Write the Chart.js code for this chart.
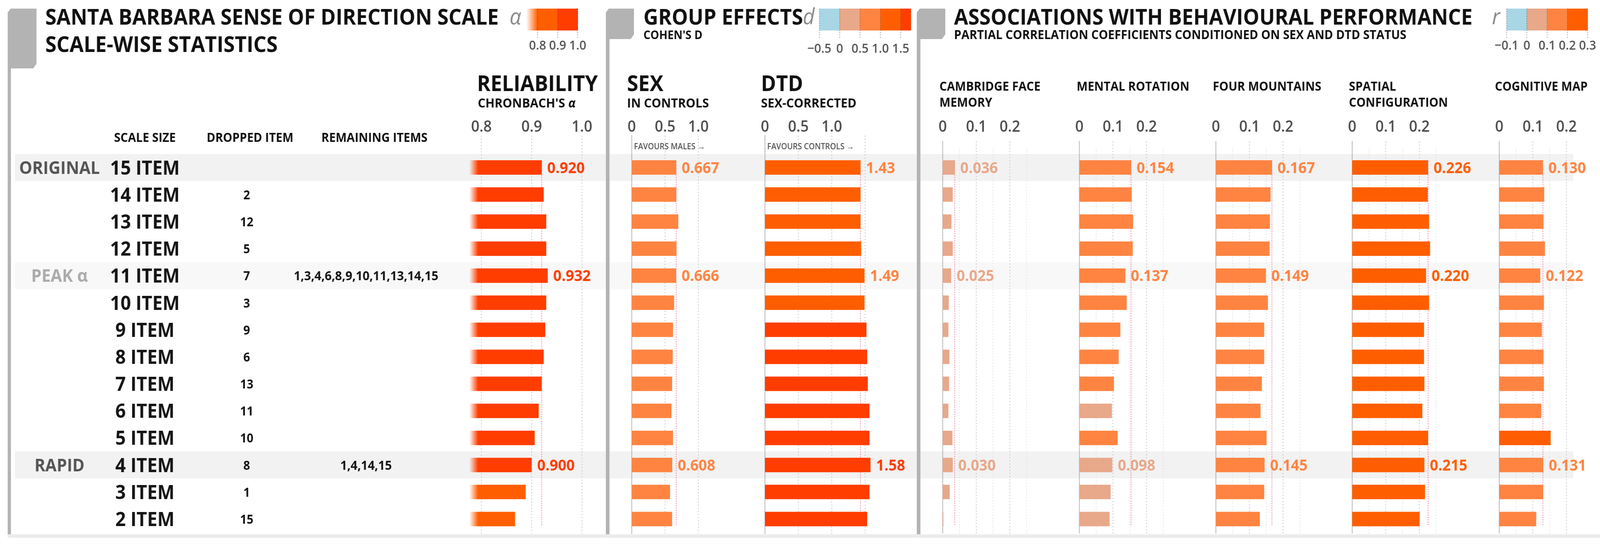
<!DOCTYPE html>
<html>
<head>
<meta charset="utf-8">
<script src="https://cdn.jsdelivr.net/npm/chart.js@4.4.1/dist/chart.umd.min.js"></script>
<style>
html,body{margin:0;padding:0;background:#fff;overflow:hidden;}
#wrap{position:relative;width:100vw;height:100vh;overflow:hidden;}
#c{display:block;width:100vw;height:100vh;}
</style>
</head>
<body>
<div id="wrap"><canvas id="c" width="4384" height="1397" style="width:100vw;height:100vh"></canvas></div>
<script>
// ---------------- DATA ----------------
const scaleSizes = ['15 ITEM','14 ITEM','13 ITEM','12 ITEM','11 ITEM','10 ITEM','9 ITEM','8 ITEM','7 ITEM','6 ITEM','5 ITEM','4 ITEM','3 ITEM','2 ITEM'];
const rowTags = ['ORIGINAL','','','','PEAK α','','','','','','','RAPID','',''];
const droppedItems = ['','2','12','5','7','3','9','6','13','11','10','8','1','15'];
const remainingItems = ['','','','','1,3,4,6,8,9,10,11,13,14,15','','','','','','','1,4,14,15','',''];

const cronbachAlpha   = [0.920,0.924,0.929,0.929,0.932,0.929,0.927,0.924,0.920,0.914,0.906,0.900,0.888,0.867];
const sexD            = [0.667,0.669,0.699,0.672,0.666,0.637,0.619,0.615,0.606,0.597,0.619,0.608,0.575,0.606];
const dtdD            = [1.43,1.43,1.43,1.44,1.49,1.49,1.52,1.53,1.54,1.565,1.565,1.58,1.565,1.53];
const faceMemoryR     = [0.036,0.030,0.026,0.030,0.025,0.018,0.017,0.020,0.019,0.017,0.029,0.030,0.021,0.002];
const mentalRotationR = [0.154,0.156,0.160,0.159,0.137,0.141,0.122,0.117,0.103,0.097,0.114,0.098,0.093,0.090];
const fourMountainsR  = [0.167,0.163,0.161,0.160,0.149,0.155,0.144,0.144,0.137,0.133,0.151,0.145,0.144,0.131];
const spatialConfigR  = [0.226,0.225,0.229,0.232,0.220,0.229,0.214,0.214,0.215,0.209,0.226,0.215,0.217,0.201];
const cognitiveMapR   = [0.130,0.134,0.132,0.136,0.122,0.133,0.127,0.132,0.133,0.125,0.153,0.131,0.131,0.110];

const labelledRows = [0, 4, 11];

const alphaTicks = [0.8, 0.9, 1.0];
const alphaTickLabels = ['0.8','0.9','1.0'];
const dTicks = [0, 0.5, 1.0];
const dTickLabels = ['0','0.5','1.0'];
const rTicks = [0, 0.1, 0.2];
const rTickLabels = ['0','0.1','0.2'];

const alphaLegendBreaks = [0.8, 0.9, 1.0];
const alphaLegendLabels = ['0.8','0.9','1.0'];
const dLegendBreaks = [-0.5, 0, 0.5, 1.0, 1.5];
const dLegendLabels = ['\u22120.5','0','0.5','1.0','1.5'];
const rLegendBreaks = [-0.1, 0, 0.1, 0.2, 0.3];
const rLegendLabels = ['\u22120.1','0','0.1','0.2','0.3'];

// ---------------- STYLE ----------------
const W = 4384, H = 1397;
const FONT = '"Open Sans", "Noto Sans", sans-serif';
const C = {blue:'#A8D6E4', salmon:'#E8A88A', lorange:'#FF8442', orange:'#FF5E00', red:'#FF3D00'};
const alphaColor = v => v >= 0.9 ? C.red : C.orange;
const dColor = v => v < 0 ? C.blue : v < 0.5 ? C.salmon : v < 1.0 ? C.lorange : v < 1.5 ? C.orange : C.red;
const rColor = v => v < 0 ? C.blue : v < 0.1 ? C.salmon : v < 0.2 ? C.lorange : C.orange;

const PANELS = [
  {key:'rel', values:cronbachAlpha,   zero:0.8, px:1319,   k:1377.5, base:0.776, ticks:alphaTicks, tickLabels:alphaTickLabels, grid:[0.8,0.9,1.0], minor:[], dark:null, digits:3, color:alphaColor, gridTop:347, fade:true},
  {key:'sex', values:sexD,            zero:0,   px:1731,   k:182.5, base:0, ticks:dTicks, tickLabels:dTickLabels, grid:[0.5,1.0], minor:[], dark:0, digits:3, color:dColor, gridTop:347},
  {key:'dtd', values:dtdD,            zero:0,   px:2096,   k:183,   base:0, ticks:dTicks, tickLabels:dTickLabels, grid:[0.5,1.0,1.5], minor:[], dark:0, digits:2, color:dColor, gridTop:347,
     labelColor: v => v >= 1.5 ? C.red : C.lorange},
  {key:'cfm', values:faceMemoryR,     zero:0,   px:2583,   k:920, base:0, ticks:rTicks, tickLabels:rTickLabels, grid:[0.1,0.2], minor:[0.05,0.15,0.25], dark:0, digits:3, color:rColor, gridTop:362},
  {key:'mr',  values:mentalRotationR, zero:0,   px:2957.5, k:920, base:0, ticks:rTicks, tickLabels:rTickLabels, grid:[0.1,0.2], minor:[0.05,0.15,0.25], dark:0, digits:3, color:rColor, gridTop:362},
  {key:'fm',  values:fourMountainsR,  zero:0,   px:3331.5, k:920, base:0, ticks:rTicks, tickLabels:rTickLabels, grid:[0.1,0.2], minor:[0.05,0.15,0.25], dark:0, digits:3, color:rColor, gridTop:362},
  {key:'sc',  values:spatialConfigR,  zero:0,   px:3705,   k:920, base:0, ticks:rTicks, tickLabels:rTickLabels, grid:[0.1,0.2], minor:[0.05,0.15,0.25], dark:0, digits:3, color:rColor, gridTop:362},
  {key:'cm',  values:cognitiveMapR,   zero:0,   px:4108,   k:920, base:0, ticks:rTicks, tickLabels:rTickLabels, grid:[0.1,0.2], minor:[0.05,0.15], dark:0, digits:3, color:rColor, gridTop:362,
     colorOverride:{10:C.orange}}
];

const scales = {
  y: {type:'category', display:false, offset:true, grid:{display:false}}
};
PANELS.forEach(p => {
  scales['x_' + p.key] = {
    type:'linear', axis:'x', display:false,
    min: p.zero - p.px / p.k,
    max: p.zero + (W - p.px) / p.k
  };
});

function barColor(p, i) {
  if (p.colorOverride && p.colorOverride[i]) return p.colorOverride[i];
  return p.color(p.values[i]);
}
function hexA(hex, a) {
  const n = parseInt(hex.slice(1), 16);
  return `rgba(${(n>>16)&255},${(n>>8)&255},${n&255},${a})`;
}

// ---------------- HELPERS ----------------
function txt(ctx, s, x, y, o) {
  o = o || {};
  ctx.save();
  ctx.font = `${o.italic ? 'italic ' : ''}${o.weight || 700} ${o.size || 32}px ${FONT}`;
  ctx.fillStyle = o.color || '#111';
  ctx.textAlign = o.align || 'left';
  ctx.textBaseline = 'alphabetic';
  ctx.fillText(s, x, y);
  ctx.restore();
}
function vline(ctx, x, y0, y1, color, width, dash) {
  ctx.save();
  ctx.strokeStyle = color; ctx.lineWidth = width; ctx.setLineDash(dash);
  ctx.beginPath(); ctx.moveTo(x, y0); ctx.lineTo(x, y1); ctx.stroke();
  ctx.restore();
}
function tab(ctx, x0, x1, y0, y1, lineW, bottom) {
  ctx.save();
  ctx.fillStyle = '#b3b3b3';
  ctx.beginPath();
  ctx.moveTo(x0, y0 + 10);
  ctx.lineTo(x0 + 8, y0);
  ctx.lineTo(x1, y0);
  ctx.lineTo(x1, y1 - 12);
  ctx.lineTo(x1 - 9, y1);
  ctx.lineTo(x0 + lineW, y1);
  ctx.lineTo(x0 + lineW, bottom);
  ctx.lineTo(x0, bottom);
  ctx.closePath();
  ctx.fill();
  ctx.restore();
}
function legend(ctx, breaks, labels, colors, x0, x1, y0, y1, labelY, fadeLeft) {
  const n = breaks.length;
  const px = v => x0 + (v - breaks[0]) / (breaks[n-1] - breaks[0]) * (x1 - x0);
  ctx.save();
  if (fadeLeft) {
    const g = ctx.createLinearGradient(fadeLeft, 0, x0, 0);
    g.addColorStop(0, hexA(colors[0], 0)); g.addColorStop(1, colors[0]);
    ctx.fillStyle = g; ctx.fillRect(fadeLeft, y0, x0 - fadeLeft, y1 - y0);
  }
  for (let i = 0; i < colors.length; i++) {
    const a = i < n ? px(breaks[i]) : x1;
    const b = i + 1 < n ? px(breaks[i+1]) : x1 + (x1 - x0) / (n - 1) / 2;
    ctx.fillStyle = colors[i];
    ctx.fillRect(a, y0, b - a + 0.5, y1 - y0);
  }
  ctx.restore();
  breaks.forEach((v, i) => {
    vline(ctx, px(v), y0, y1 + 22, 'rgba(60,60,60,0.55)', 1.5, [3, 3]);
    txt(ctx, labels[i], px(v), labelY, {size:33, weight:600, color:'#555', align:'center'});
  });
}

// ---------------- PLUGIN ----------------
const decor = {
  id:'decor',
  beforeDraw(chart) {
    const ctx = chart.ctx, ys = chart.scales.y, ca = chart.chartArea;
    const rowH = (ca.bottom - ca.top) / scaleSizes.length;
    ctx.save();
    ctx.fillStyle = '#fff'; ctx.fillRect(0, 0, W, H);
    const bands = {0:'#f2f2f2', 4:'#f8f8f8', 11:'#f2f2f2'};
    Object.keys(bands).forEach(k => {
      const yc = ys.getPixelForValue(+k);
      ctx.fillStyle = bands[k];
      ctx.fillRect(41, yc - rowH/2, 4311 - 41, rowH);
    });
    ctx.fillStyle = '#ececec';
    ctx.fillRect(21, 1367, W - 21, 9);
    ctx.restore();
    tab(ctx, 21, 100, 22, 175, 9, 1367);
    tab(ctx, 1660, 1737, 22, 100, 10, 1367);
    tab(ctx, 2512, 2590, 22, 100, 10, 1367);
  },
  beforeDatasetsDraw(chart) {
    const ctx = chart.ctx, ys = chart.scales.y;
    const first = ys.getPixelForValue(0), last = ys.getPixelForValue(scaleSizes.length - 1);
    PANELS.forEach(p => {
      const sc = chart.scales['x_' + p.key];
      p.minor.forEach(v => vline(ctx, sc.getPixelForValue(v), 380, 1365, '#dedede', 2, [2.5, 5]));
      p.grid.forEach(v => vline(ctx, sc.getPixelForValue(v), p.gridTop, 1365, '#c4c4c4', 2, [3, 5]));
      if (p.dark !== null) vline(ctx, sc.getPixelForValue(p.dark), p.gridTop, 1365, '#6a6a6a', 2, [2, 2]);
      vline(ctx, sc.getPixelForValue(p.values[0]), first - 18, last + 18, '#e4628f', 1.5, [3, 3]);
    });
  },
  afterDatasetsDraw(chart) {
    const ctx = chart.ctx, ys = chart.scales.y;
    PANELS.forEach((p, di) => {
      const meta = chart.getDatasetMeta(di);
      labelledRows.forEach(i => {
        const el = meta.data[i];
        const v = p.values[i];
        const col = p.labelColor ? p.labelColor(v) : barColor(p, i);
        txt(ctx, v.toFixed(p.digits), el.x + 15, el.y + 14, {size:40, weight:700, color:col});
      });
      const sc = chart.scales['x_' + p.key];
      p.ticks.forEach((t, j) => txt(ctx, p.tickLabels[j], sc.getPixelForValue(t), 337, {size:40, weight:600, color:'#4d4d4d', align:'center'}));
    });
    scaleSizes.forEach((s, i) => {
      const yc = ys.getPixelForValue(i);
      txt(ctx, s, 397, yc + 18, {size:50, weight:700, color:'#151515', align:'center'});
      if (droppedItems[i]) txt(ctx, droppedItems[i], 676, yc + 12, {size:32, weight:700, color:'#151515', align:'center'});
      if (remainingItems[i]) txt(ctx, remainingItems[i], 1003, yc + 12, {size:33, weight:700, color:'#151515', align:'center'});
      if (rowTags[i]) {
        const col = rowTags[i].startsWith('PEAK') ? '#ababab' : '#555';
        txt(ctx, rowTags[i], 163, yc + 16, {size:45, weight:700, color:col, align:'center'});
      }
    });
    txt(ctx, 'SANTA BARBARA SENSE OF DIRECTION SCALE', 124, 63, {size:56});
    txt(ctx, 'SCALE-WISE STATISTICS', 124, 133, {size:56});
    txt(ctx, 'GROUP EFFECTS', 1763, 63, {size:56});
    txt(ctx, "COHEN'S D", 1763, 100, {size:30});
    txt(ctx, 'ASSOCIATIONS WITH BEHAVIOURAL PERFORMANCE', 2614, 63, {size:56});
    txt(ctx, 'PARTIAL CORRELATION COEFFICIENTS CONDITIONED ON SEX AND DTD STATUS', 2614, 100, {size:32});
    txt(ctx, 'α', 1428, 62, {size:56, weight:400, italic:true, color:'#8a8a8a', align:'right'});
    legend(ctx, alphaLegendBreaks, alphaLegendLabels, [C.orange, C.red], 1473, 1583, 22, 78, 127, 1442);
    txt(ctx, 'd', 2232, 62, {size:56, weight:400, italic:true, color:'#8a8a8a', align:'right'});
    legend(ctx, dLegendBreaks, dLegendLabels, [C.blue, C.salmon, C.lorange, C.orange, C.red], 2245, 2468, 22, 78, 135, null);
    txt(ctx, 'r', 4110, 62, {size:56, weight:400, italic:true, color:'#8a8a8a', align:'right'});
    legend(ctx, rLegendBreaks, rLegendLabels, [C.blue, C.salmon, C.lorange, C.orange], 4128, 4350, 22, 78, 127, null);
    txt(ctx, 'SCALE SIZE', 397, 363, {size:32, align:'center'});
    txt(ctx, 'DROPPED ITEM', 685, 363, {size:32, align:'center'});
    txt(ctx, 'REMAINING ITEMS', 1026, 363, {size:32, align:'center'});
    txt(ctx, 'RELIABILITY', 1307, 233, {size:56});
    txt(ctx, "CHRONBACH'S", 1309, 275, {size:33});
    ctx.save(); ctx.font = `700 33px ${FONT}`; const cw = ctx.measureText("CHRONBACH'S ").width; ctx.restore();
    txt(ctx, 'α', 1309 + cw, 275, {size:33, italic:true});
    txt(ctx, 'SEX', 1718, 233, {size:56});
    txt(ctx, 'IN CONTROLS', 1718, 275, {size:33});
    txt(ctx, 'DTD', 2085, 233, {size:56});
    txt(ctx, 'SEX-CORRECTED', 2085, 275, {size:33});
    txt(ctx, 'FAVOURS MALES \u2192', 1737, 382, {size:21, weight:600, color:'#555'});
    txt(ctx, 'FAVOURS CONTROLS \u2192', 2102, 382, {size:21, weight:600, color:'#555'});
    txt(ctx, 'CAMBRIDGE FACE', 2574, 232, {size:32});
    txt(ctx, 'MEMORY', 2574, 273, {size:32});
    txt(ctx, 'MENTAL ROTATION', 2950, 232, {size:32});
    txt(ctx, 'FOUR MOUNTAINS', 3323, 232, {size:32});
    txt(ctx, 'SPATIAL', 3696, 232, {size:32});
    txt(ctx, 'CONFIGURATION', 3696, 273, {size:32});
    txt(ctx, 'COGNITIVE MAP', 4096, 232, {size:32});
  }
};

// ---------------- CHART ----------------
new Chart(document.getElementById('c'), {
  type:'bar',
  data:{
    labels: scaleSizes,
    datasets: PANELS.map(p => ({
      label: p.key,
      data: p.values,
      xAxisID: 'x_' + p.key,
      base: p.base,
      grouped: false,
      categoryPercentage: 1,
      barPercentage: 0.535,
      borderWidth: 0,
      backgroundColor: c => {
        const i = c.dataIndex;
        if (i === undefined) return C.orange;
        const col = barColor(p, i);
        if (!p.fade) return col;
        const sc = c.chart.scales['x_' + p.key];
        if (!sc || !c.chart.chartArea) return col;
        const g = c.chart.ctx.createLinearGradient(sc.getPixelForValue(0.776), 0, sc.getPixelForValue(0.7935), 0);
        g.addColorStop(0, hexA(col, 0));
        g.addColorStop(1, col);
        return g;
      }
    }))
  },
  options:{
    indexAxis:'y',
    responsive:false,
    devicePixelRatio:1,
    animation:false,
    events:[],
    layout:{padding:{left:0, right:0, top:394, bottom:34.4}},
    scales: scales,
    plugins:{legend:{display:false}, tooltip:{enabled:false}, title:{display:false}}
  },
  plugins:[decor]
});
</script>
</body>
</html>
